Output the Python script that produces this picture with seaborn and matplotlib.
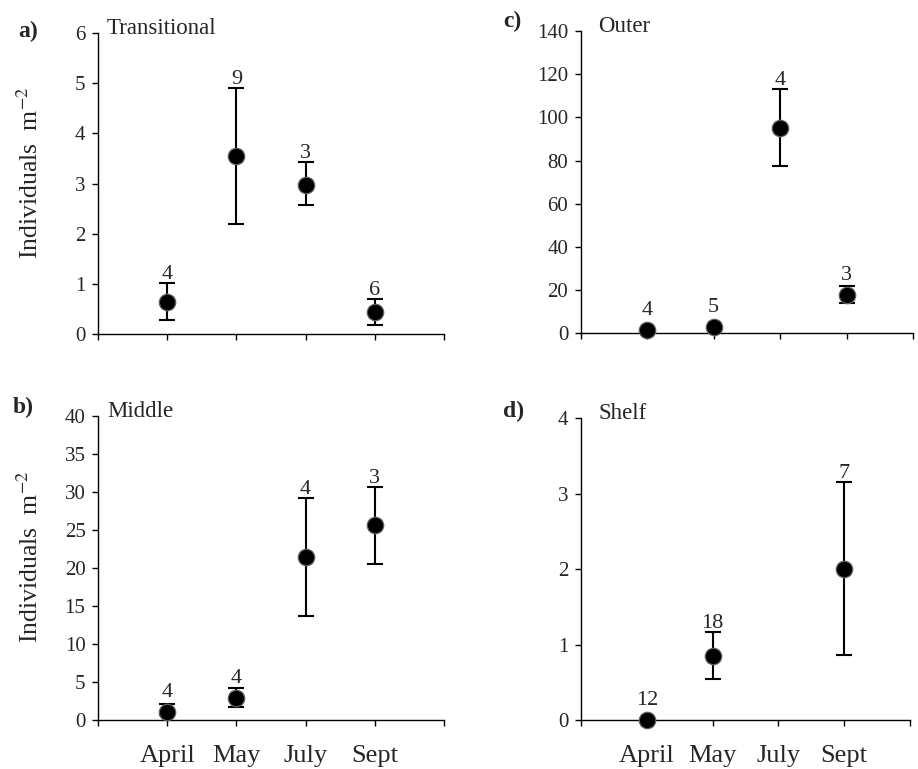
import matplotlib
matplotlib.use('Agg')
import matplotlib.pyplot as plt
import seaborn as sns
import pandas as pd

month_order = ['April', 'May', 'July', 'Sept']

# a) Transitional
trans_months = ['April', 'May', 'July', 'Sept']
trans_mean = [0.63, 3.55, 2.98, 0.43]
trans_lo = [0.28, 2.2, 2.57, 0.18]
trans_hi = [1.02, 4.9, 3.42, 0.70]
trans_n = [4, 9, 3, 6]

# b) Middle
mid_months = ['April', 'May', 'July', 'Sept']
mid_mean = [1.0, 2.9, 21.4, 25.6]
mid_lo = [0.7, 1.75, 13.7, 20.5]
mid_hi = [2.1, 4.2, 29.2, 30.7]
mid_n = [4, 4, 4, 3]

# c) Outer (April/May error bars too small to see)
outer_months = ['April', 'May', 'July', 'Sept']
outer_mean = [1.5, 2.9, 95.2, 17.9]
outer_lo = [1.5, 2.9, 77.5, 14.2]
outer_hi = [1.5, 2.9, 113.0, 22.1]
outer_n = [4, 5, 4, 3]

# d) Shelf
shelf_months = ['April', 'May', 'Sept']
shelf_mean = [0.0, 0.85, 2.0]
shelf_lo = [0.0, 0.55, 0.86]
shelf_hi = [0.0, 1.17, 3.15]
shelf_n = [12, 18, 7]

sns.set_style('ticks')
plt.rcParams['font.family'] = ['Liberation Serif', 'DejaVu Serif']
plt.rcParams['mathtext.fontset'] = 'stix'

fig = plt.figure(figsize=(9.18, 7.69), dpi=100)


def draw_panel(rect, name, name_x, mon, mean, lo, hi, n, ymax, ystep, show_ylabel, show_months):
    ax = fig.add_axes(rect)
    df = pd.DataFrame({'month': mon, 'mean': mean, 'lo': lo, 'hi': hi, 'n': n})
    df['x'] = df['month'].map(lambda m: month_order.index(m) + 1)

    err = df[df['hi'] > df['lo']]
    ax.errorbar(err['x'], err['mean'],
                yerr=[err['mean'] - err['lo'], err['hi'] - err['mean']],
                fmt='none', ecolor='black', elinewidth=1.5, capsize=6,
                capthick=1.5, zorder=2, clip_on=False)
    sns.scatterplot(data=df, x='x', y='mean', ax=ax, s=140, color='black',
                    edgecolor='#606060', linewidth=0.9, zorder=3,
                    clip_on=False, legend=False)

    ax.set_xlim(0, 5)
    ax.set_ylim(0, ymax)
    ax.set_xticks(range(6))
    if show_months:
        ax.set_xticklabels([''] + month_order + [''])
    else:
        ax.set_xticklabels([])
    ax.set_yticks(range(0, ymax + 1, ystep))
    ax.tick_params(axis='both', direction='out', length=4, width=1,
                   color='black', labelsize=15, pad=5)
    ax.tick_params(axis='x', labelsize=19, pad=14)
    for side in ['left', 'bottom']:
        ax.spines[side].set_linewidth(1)
        ax.spines[side].set_color('black')
    sns.despine(ax=ax)
    ax.set_xlabel('')
    if show_ylabel:
        ax.set_ylabel('Individuals  m$^{-2}$', fontsize=18.5)
        ax.yaxis.set_label_coords(-0.16, 0.535)
    else:
        ax.set_ylabel('')

    ax.text(name_x, 0.996, name, transform=ax.transAxes, fontsize=16.5,
            va='baseline', ha='left')

    # sample sizes above the bars
    for _, r in df.iterrows():
        y_hi = ax.transData.transform((r['x'], r['hi']))[1]
        y_m = ax.transData.transform((r['x'], r['mean']))[1]
        bottom = max(y_hi + 4, y_m + 15)
        off = (bottom - y_m) * 72 / fig.dpi
        ax.annotate(str(int(r['n'])), (r['x'], r['mean']), xytext=(0, off),
                    textcoords='offset points', ha='center', va='baseline',
                    fontsize=16, annotation_clip=False)
    return ax


draw_panel([0.1068, 0.5657, 0.3769, 0.3913], 'Transitional', 0.026,
           trans_months, trans_mean, trans_lo, trans_hi, trans_n, 6, 1, True, False)
draw_panel([0.6326, 0.5666, 0.3620, 0.3931], 'Outer', 0.052,
           outer_months, outer_mean, outer_lo, outer_hi, outer_n, 140, 20, False, False)
draw_panel([0.1068, 0.0637, 0.3769, 0.3953], 'Middle', 0.026,
           mid_months, mid_mean, mid_lo, mid_hi, mid_n, 40, 5, True, True)
draw_panel([0.6329, 0.0637, 0.3584, 0.3924], 'Shelf', 0.052,
           shelf_months, shelf_mean, shelf_lo, shelf_hi, shelf_n, 4, 1, False, True)

fig.text(0.020, 0.952, 'a)', fontsize=17, fontweight='bold')
fig.text(0.014, 0.463, 'b)', fontsize=17, fontweight='bold')
fig.text(0.548, 0.965, 'c)', fontsize=17, fontweight='bold')
fig.text(0.548, 0.458, 'd)', fontsize=17, fontweight='bold')

fig.savefig('out.png', dpi=100)
